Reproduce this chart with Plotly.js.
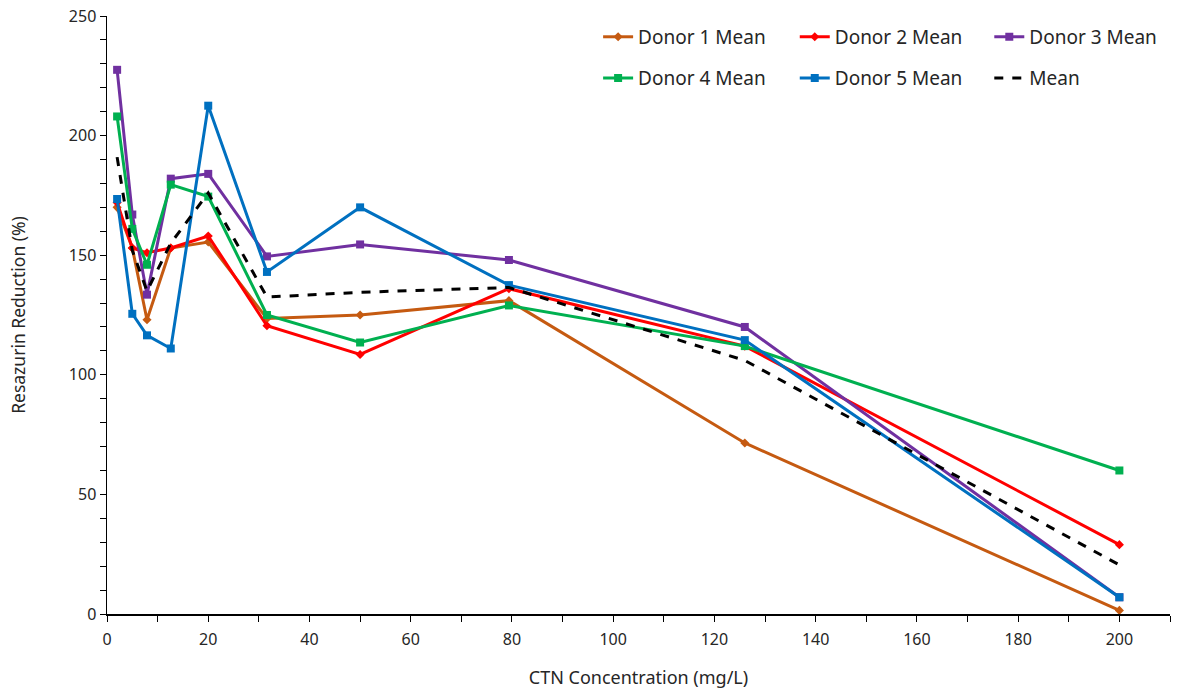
<!DOCTYPE html>
<html><head><meta charset="utf-8">
<script src="https://cdn.plot.ly/plotly-3.0.1.min.js"></script>
<style>html,body{margin:0;padding:0;background:#fff}#chart{width:1191px;height:691px}</style>
</head><body><div id="chart"></div>
<script>
const conc = [2, 5, 7.9, 12.6, 20, 31.6, 50, 79.4, 126, 200];
const donor1 = [170, 153, 123, 153, 155.5, 123.5, 125, 131, 71.5, 1.5];
const donor2 = [172, 153, 151, 153, 158, 120.5, 108.5, 136, 112, 29];
const donor3 = [227.5, 167, 133.5, 182, 184, 149.5, 154.5, 148, 120, 7];
const donor4 = [208, 161, 146, 179.5, 174.5, 125, 113.5, 129, 112, 60];
const donor5 = [173.5, 125.5, 116.5, 111, 212.5, 143, 170, 137.5, 114.5, 7];
const meanAll = [191, 152, 135, 155, 176, 132.5, 134.5, 136.5, 106, 20.5];
const names = ["Donor 1 Mean", "Donor 2 Mean", "Donor 3 Mean", "Donor 4 Mean", "Donor 5 Mean", "Mean"];

function tr(y, name, color, symbol, msize, dash, leg) {
  const t = {x: conc, y: y, name: name, type: 'scatter', legend: leg,
    mode: symbol ? 'lines+markers' : 'lines',
    line: {color: color, width: 3, dash: dash || 'solid'}};
  if (symbol) t.marker = {symbol: symbol, size: msize, color: color};
  return t;
}
const data = [
  tr(donor1, names[0], '#C55A11', 'diamond', 7, null, 'legend'),
  tr(donor2, names[1], '#FF0000', 'diamond', 7, null, 'legend2'),
  tr(donor3, names[2], '#7030A0', 'square', 8, null, 'legend3'),
  tr(donor4, names[3], '#00B050', 'square', 8, null, 'legend4'),
  tr(donor5, names[4], '#0070C0', 'square', 8, null, 'legend5'),
  tr(meanAll, names[5], '#000000', null, 0, 'dash', 'legend6')
];
const legFont = {family: 'Noto Sans, sans-serif', size: 19, color: '#262626'};
function leg(x, y) {
  return {x: x, y: y, xanchor: 'left', yanchor: 'middle', font: legFont,
    bgcolor: 'rgba(0,0,0,0)', borderwidth: 0};
}
const tickFont = {family: 'Noto Sans, sans-serif', size: 16, color: '#262626'};
const layout = {
  width: 1191, height: 691,
  margin: {l: 107, r: 21, t: 16, b: 77},
  paper_bgcolor: '#fff', plot_bgcolor: '#fff',
  font: {family: 'Noto Sans, sans-serif', size: 16, color: '#262626'},
  showlegend: true,
  legend: leg(0.462, 0.965),
  legend2: leg(0.647, 0.965),
  legend3: leg(0.830, 0.965),
  legend4: leg(0.462, 0.896),
  legend5: leg(0.647, 0.896),
  legend6: leg(0.830, 0.896),
  xaxis: {range: [0, 210], dtick: 20, tick0: 0, showgrid: false, zeroline: false,
    showline: true, linecolor: '#000', linewidth: 1.5, ticks: 'outside', ticklen: 6, tickcolor: '#000',
    ticklabelstandoff: 4,
    minor: {dtick: 10, ticks: 'outside', ticklen: 6, tickcolor: '#000', showgrid: false},
    tickfont: tickFont,
    title: {text: 'CTN Concentration (mg/L)', font: {family: 'Noto Sans, sans-serif', size: 18, color: '#262626'}, standoff: 22}},
  yaxis: {range: [0, 250], dtick: 50, tick0: 0, showgrid: false, zeroline: false,
    showline: true, linecolor: '#000', linewidth: 1.5, ticks: 'outside', ticklen: 6, tickcolor: '#000',
    minor: {dtick: 10, ticks: 'outside', ticklen: 6, tickcolor: '#000', showgrid: false},
    tickfont: tickFont,
    title: {text: 'Resazurin Reduction (%)', font: {family: 'Noto Sans, sans-serif', size: 17.5, color: '#262626'}, standoff: 38}}
};
Plotly.newPlot('chart', data, layout, {displayModeBar: false, staticPlot: true});
</script></body></html>
